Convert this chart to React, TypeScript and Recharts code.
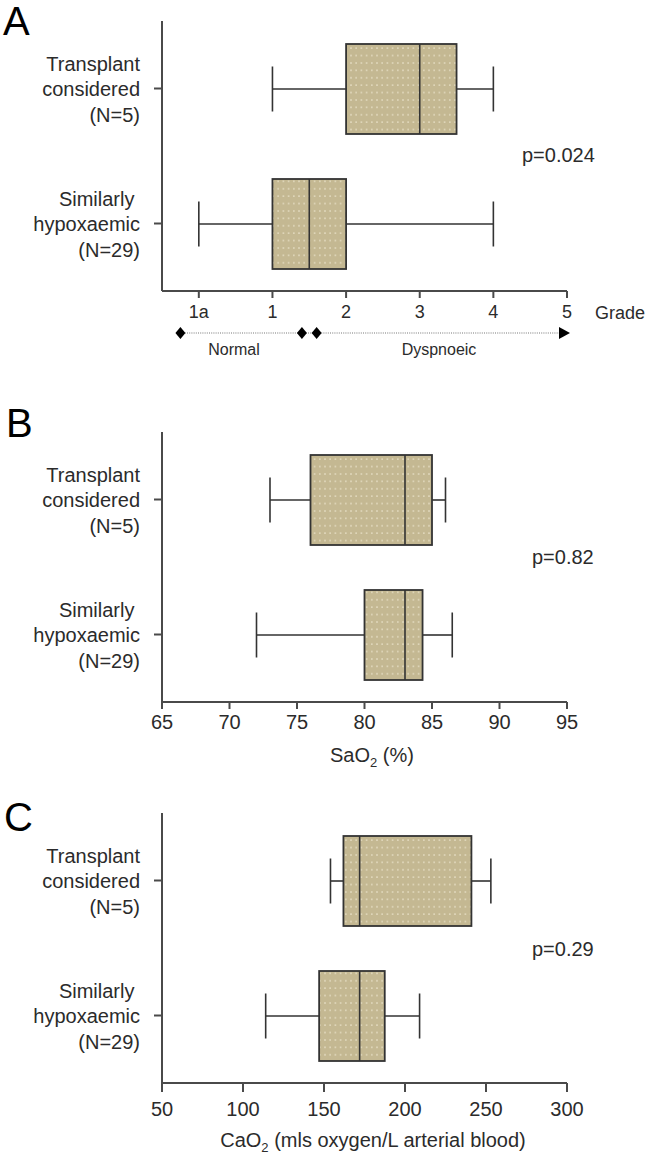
import React from 'react'
import {
  ComposedChart, ScatterChart, Bar, Scatter, XAxis, YAxis, ReferenceLine,
} from 'recharts'

const FONT = '"Liberation Sans", Arial, Helvetica, sans-serif'
const INK = '#2b2b2b'
const AXIS = '#4a4a4a'

// groups (y categories)
const groups = ['Transplant considered (N=5)', 'Similarly hypoxaemic (N=29)']
const groupLines = [
  ['Transplant', 'considered', '(N=5)'],
  ['Similarly ', 'hypoxaemic', '(N=29)'],
]

// A: dyspnoea grade (1a plotted at 0)
const gradeMin = [1, 0]
const gradeQ1 = [2, 1]
const gradeMedian = [3, 1.5]
const gradeQ3 = [3.5, 2]
const gradeMax = [4, 4]
const gradeTicks = [0, 1, 2, 3, 4, 5]
const gradeTickLabels = ['1a', '1', '2', '3', '4', '5']

// A: normal / dyspnoeic scale under the axis
const normalMarks = [-0.25, 1.4]
const dyspnoeicMarks = [1.6]
const arrowTip = [5]

// B: SaO2 (%)
const saMin = [73, 72]
const saQ1 = [76, 80]
const saMedian = [83, 83]
const saQ3 = [85, 84.3]
const saMax = [86, 86.5]
const saTicks = [65, 70, 75, 80, 85, 90, 95]

// C: CaO2
const caMin = [154, 114]
const caQ1 = [162, 147]
const caMedian = [172, 172]
const caQ3 = [241, 187.5]
const caMax = [253, 209]
const caTicks = [50, 100, 150, 200, 250, 300]

const build = (mn: number[], q1: number[], md: number[], q3: number[], mx: number[]) =>
  groups.map((name, i) => ({
    name, lines: groupLines[i],
    min: mn[i], q1: q1[i], median: md[i], q3: q3[i], max: mx[i],
    range: [mn[i], mx[i]],
  }))

const gradeData = build(gradeMin, gradeQ1, gradeMedian, gradeQ3, gradeMax)
const saData = build(saMin, saQ1, saMedian, saQ3, saMax)
const caData = build(caMin, caQ1, caMedian, caQ3, caMax)

function BoxShape(props: any) {
  const { x, y, width, height, payload } = props
  const { min, q1, median, q3, max } = payload
  const px = (v: number) => x + ((v - min) / (max - min)) * width
  const cy = y + height / 2
  const cap = height * 0.25
  const s = { stroke: '#333', strokeWidth: 1.6 }
  return (
    <g>
      <line x1={px(min)} x2={px(q1)} y1={cy} y2={cy} {...s} />
      <line x1={px(q3)} x2={px(max)} y1={cy} y2={cy} {...s} />
      <line x1={px(min)} x2={px(min)} y1={cy - cap} y2={cy + cap} {...s} />
      <line x1={px(max)} x2={px(max)} y1={cy - cap} y2={cy + cap} {...s} />
      <rect x={px(q1)} y={y} width={px(q3) - px(q1)} height={height}
        fill="url(#dots)" stroke="#333" strokeWidth={1.8} />
      <line x1={px(median)} x2={px(median)} y1={y} y2={y + height} {...s} />
    </g>
  )
}

function GroupTick(props: any) {
  const { x, y, payload, index } = props
  const lines = groupLines[index] ?? [payload.value]
  return (
    <text x={x} y={y} textAnchor="end" fontSize={20} fill={INK}
      fontFamily={FONT} style={{ whiteSpace: 'pre' }}>
      {lines.map((l: string, i: number) => (
        <tspan key={i} x={x} y={y + 7.5 + (i - 1) * 25.5}>{l}</tspan>
      ))}
    </text>
  )
}

interface PanelProps {
  data: any[]; ticks: number[]; domain: [number, number]
  top: number; height: number; fontSize: number; tickSize: number; tickMargin: number
  format?: (v: number) => string
}

function BoxPanel({ data, ticks, domain, top, height, fontSize, tickSize, tickMargin, format }: PanelProps) {
  return (
    <div style={{ position: 'absolute', left: 0, top }}>
      <ComposedChart width={649} height={height} data={data} layout="vertical"
        margin={{ top: 21, right: 82, bottom: 0, left: 0 }} barCategoryGap={0}>
        <XAxis type="number" domain={domain} ticks={ticks} interval={0}
          allowDataOverflow height={height - 291}
          tickFormatter={format}
          axisLine={{ stroke: AXIS, strokeWidth: 2 }}
          tickLine={{ stroke: AXIS, strokeWidth: 2 }}
          tickSize={tickSize} tickMargin={tickMargin}
          tick={{ fontSize, fill: INK, fontFamily: FONT }} />
        <YAxis type="category" dataKey="name" width={162} interval={0}
          axisLine={{ stroke: AXIS, strokeWidth: 2 }}
          tickLine={{ stroke: AXIS, strokeWidth: 2 }}
          tickSize={8} tickMargin={14}
          tick={<GroupTick />} />
        <Bar dataKey="range" barSize={90} shape={<BoxShape />} isAnimationActive={false} />
      </ComposedChart>
    </div>
  )
}

const Diamond = (p: any) => (
  <polygon points={`${p.cx},${p.cy - 6} ${p.cx + 5},${p.cy} ${p.cx},${p.cy + 6} ${p.cx - 5},${p.cy}`} fill="#000" />
)
const Arrow = (p: any) => (
  <polygon points={`${p.cx - 8},${p.cy - 6} ${p.cx + 3},${p.cy} ${p.cx - 8},${p.cy + 6}`} fill="#000" />
)

const diamondData = [...normalMarks, ...dyspnoeicMarks].map(x => ({ x, y: 0.5 }))
const arrowData = arrowTip.map(x => ({ x, y: 0.5 }))

export default function App() {
  return (
    <div style={{ position: 'absolute', left: 0, top: 0, width: 649, height: 1155, background: '#fff', overflow: 'hidden' }}>
      <svg width={0} height={0} style={{ position: 'absolute' }}>
        <defs>
          <pattern id="dots" width={5.2} height={7.4} patternUnits="userSpaceOnUse">
            <rect width={5.2} height={7.4} fill="#c4b892" />
            <circle cx={2.6} cy={3.7} r={0.8} fill="#efe9d2" />
          </pattern>
        </defs>
      </svg>

      <BoxPanel data={gradeData} ticks={gradeTicks} domain={[-0.5, 5]} top={0} height={330}
        fontSize={18} tickSize={7} tickMargin={7}
        format={v => gradeTickLabels[gradeTicks.indexOf(v)] ?? String(v)} />

      <div style={{ position: 'absolute', left: 0, top: 318 }}>
        <ScatterChart width={649} height={30} margin={{ top: 0, right: 82, bottom: 0, left: 162 }}
          style={{ overflow: 'visible' }}>
          <XAxis type="number" dataKey="x" domain={[-0.5, 5]} hide />
          <YAxis type="number" dataKey="y" domain={[0, 1]} hide />
          <ReferenceLine segment={[{ x: normalMarks[0], y: 0.5 }, { x: arrowTip[0] - 0.08, y: 0.5 }]}
            stroke="#777" strokeWidth={1.2} strokeDasharray="1 1.2" ifOverflow="visible" />
          <Scatter data={diamondData} shape={<Diamond />} isAnimationActive={false} />
          <Scatter data={arrowData} shape={<Arrow />} isAnimationActive={false} />
        </ScatterChart>
      </div>

      <BoxPanel data={saData} ticks={saTicks} domain={[65, 95]} top={411} height={351}
        fontSize={20} tickSize={7} tickMargin={6} />

      <BoxPanel data={caData} ticks={caTicks} domain={[50, 300]} top={792} height={341}
        fontSize={20} tickSize={9} tickMargin={10} />

      <svg width={649} height={1155} style={{ position: 'absolute', left: 0, top: 0, pointerEvents: 'none' }}
        fontFamily={FONT}>
        <text x={3} y={35} fontSize={40} fill="#000">A</text>
        <text x={6} y={437} fontSize={40} fill="#000">B</text>
        <text x={4} y={831} fontSize={40} fill="#000">C</text>

        <text x={522} y={162} fontSize={20} fill={INK}>p=0.024</text>
        <text x={532} y={564} fontSize={20} fill={INK}>p=0.82</text>
        <text x={532} y={956} fontSize={20} fill={INK}>p=0.29</text>

        <text x={595} y={318.5} fontSize={18} fill={INK}>Grade</text>
        <text x={234} y={355} fontSize={16} fill={INK} textAnchor="middle">Normal</text>
        <text x={439} y={355} fontSize={16} fill={INK} textAnchor="middle">Dyspnoeic</text>

        <text x={372} y={762} fontSize={20} fill={INK} textAnchor="middle">
          SaO<tspan fontSize={13} dy={5}>2</tspan><tspan dy={-5}> (%)</tspan>
        </text>
        <text x={373} y={1147} fontSize={20} fill={INK} textAnchor="middle">
          CaO<tspan fontSize={13} dy={5}>2</tspan><tspan dy={-5}> (mls oxygen/L arterial blood)</tspan>
        </text>
      </svg>
    </div>
  )
}
